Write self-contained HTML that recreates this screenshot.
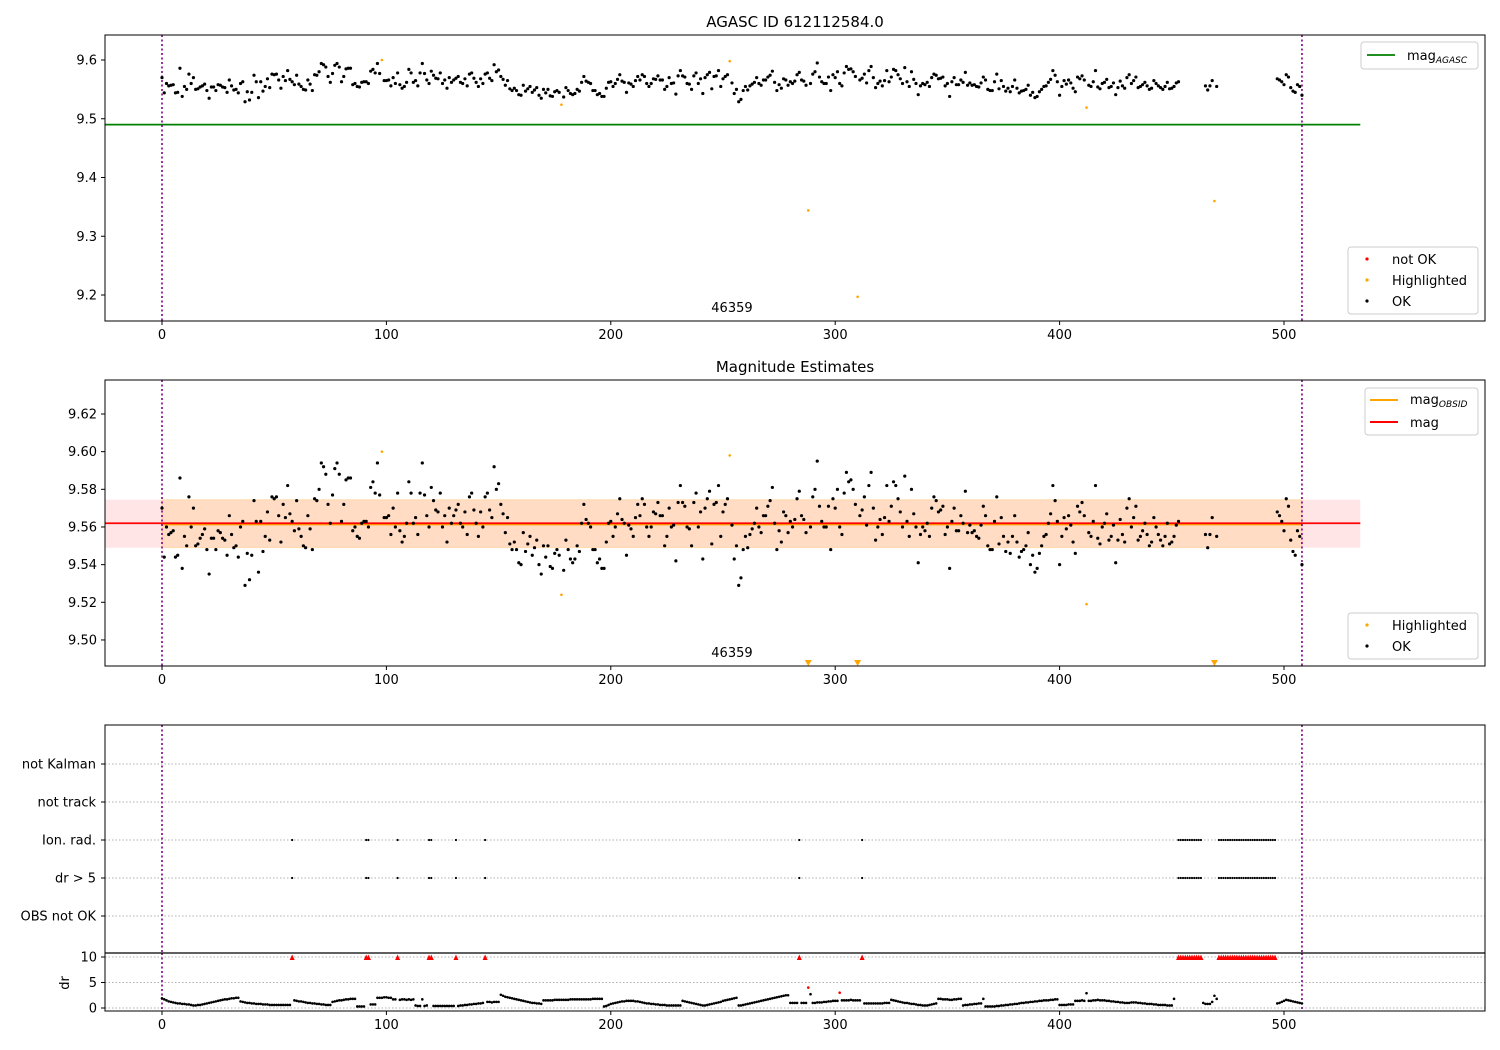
<!DOCTYPE html>
<html><head><meta charset="utf-8"><style>
body{margin:0;background:#fff}
svg{display:block;font-family:"DejaVu Sans","Liberation Sans",sans-serif}
</style></head><body>
<svg id="c" width="1500" height="1050" viewBox="0 0 1500 1050" xmlns="http://www.w3.org/2000/svg"></svg>
<script>
const ticksX=[0,100,200,300,400,500];
const ticksY1=[9.2,9.3,9.4,9.5,9.6];
const ticksY2=[9.50,9.52,9.54,9.56,9.58,9.60,9.62];
const ticksY4=[0,5,10];
const flagRows=["OBS not OK","dr > 5","Ion. rad.","not track","not Kalman"];
const agascMag=9.49;
const meanMag=9.562;
const magLow=9.549, magHigh=9.5745;
const highlighted=[98,178,253,288,310,412,469];
const notOkDr=[288,302];
const flagged=[58,91,92,105,119,120,131,144,284,312,453,454,455,456,457,458,459,460,461,462,463,471,472,473,474,475,476,477,478,479,480,481,482,483,484,485,486,487,488,489,490,491,492,493,494,495,496];
const mag=[
9.570,9.544,9.560,9.556,9.557,9.558,9.544,9.545,9.586,9.538,
9.555,9.550,9.576,9.560,9.570,9.550,9.551,9.554,9.556,9.559,
9.548,9.535,9.554,9.554,9.548,9.558,9.557,9.554,9.553,9.545,
9.566,9.556,9.549,9.550,9.544,9.560,9.563,9.529,9.546,9.532,
9.545,9.574,9.563,9.536,9.563,9.547,9.555,9.568,9.553,9.576,
9.575,9.576,9.566,9.552,9.572,9.565,9.582,9.567,9.563,9.558,
9.574,9.559,9.555,9.550,9.549,9.566,9.559,9.548,9.575,9.574,
9.580,9.594,9.592,9.588,9.572,9.562,9.577,9.591,9.594,9.588,
9.563,9.572,9.585,9.586,9.586,9.558,9.560,9.555,9.554,9.562,
9.563,9.563,9.560,9.581,9.584,9.578,9.594,9.577,9.600,9.565,
9.565,9.566,9.556,9.570,9.560,9.578,9.558,9.552,9.555,9.562,
9.584,9.578,9.562,9.565,9.556,9.578,9.594,9.577,9.566,9.560,
9.581,9.574,9.569,9.568,9.578,9.560,9.566,9.552,9.570,9.562,
9.566,9.569,9.572,9.562,9.560,9.568,9.556,9.576,9.578,9.569,
9.562,9.555,9.568,9.560,9.576,9.578,9.569,9.565,9.592,9.580,
9.583,9.572,9.567,9.557,9.565,9.551,9.548,9.552,9.548,9.541,
9.540,9.557,9.547,9.551,9.555,9.545,9.549,9.553,9.540,9.535,
9.550,9.544,9.550,9.539,9.538,9.546,9.548,9.545,9.524,9.537,
9.553,9.548,9.543,9.541,9.543,9.550,9.547,9.562,9.572,9.564,
9.562,9.560,9.548,9.548,9.541,9.543,9.538,9.538,9.552,9.562,
9.563,9.555,9.560,9.567,9.575,9.564,9.562,9.545,9.561,9.559,
9.555,9.565,9.572,9.566,9.575,9.572,9.560,9.555,9.560,9.568,
9.567,9.573,9.566,9.566,9.550,9.555,9.570,9.560,9.561,9.542,
9.573,9.582,9.573,9.571,9.560,9.559,9.550,9.573,9.578,9.560,
9.568,9.543,9.570,9.575,9.579,9.551,9.572,9.573,9.582,9.555,
9.568,9.572,9.575,9.598,9.561,9.543,9.550,9.529,9.533,9.548,
9.555,9.549,9.556,9.559,9.562,9.570,9.560,9.557,9.566,9.566,
9.571,9.574,9.581,9.562,9.548,9.558,9.552,9.568,9.566,9.557,
9.563,9.560,9.564,9.575,9.579,9.566,9.564,9.557,9.344,9.560,
9.576,9.580,9.595,9.571,9.563,9.560,9.560,9.571,9.548,9.575,
9.570,9.580,9.560,9.556,9.578,9.589,9.584,9.585,9.580,9.572,
9.197,9.566,9.569,9.576,9.561,9.582,9.589,9.570,9.553,9.560,
9.564,9.556,9.565,9.582,9.563,9.571,9.584,9.582,9.575,9.568,
9.560,9.587,9.563,9.555,9.580,9.567,9.560,9.541,9.556,9.560,
9.558,9.562,9.555,9.570,9.576,9.574,9.568,9.569,9.571,9.556,
9.560,9.538,9.563,9.570,9.558,9.558,9.566,9.562,9.579,9.557,
9.561,9.557,9.558,9.555,9.554,9.561,9.571,9.566,9.550,9.548,
9.548,9.563,9.576,9.551,9.565,9.555,9.547,9.552,9.546,9.555,
9.566,9.552,9.544,9.547,9.548,9.550,9.557,9.540,9.545,9.536,
9.538,9.546,9.550,9.555,9.556,9.562,9.567,9.582,9.574,9.563,
9.540,9.555,9.565,9.559,9.566,9.561,9.552,9.546,9.571,9.568,
9.573,9.566,9.519,9.557,9.555,9.563,9.582,9.554,9.551,9.560,
9.562,9.567,9.553,9.555,9.561,9.541,9.553,9.564,9.556,9.552,
9.570,9.575,9.560,9.565,9.571,9.553,9.555,9.558,9.562,9.556,
9.550,9.552,9.565,9.560,9.556,9.553,9.550,9.555,9.562,9.551,
9.552,9.555,9.561,9.563,
null,null,null,null,null,null,null,null,null,null,null,
9.556,9.549,9.556,9.565,9.360,9.555,
null,null,null,null,null,null,null,null,null,null,null,null,null,null,null,null,null,null,null,null,null,null,null,null,null,null,
9.568,9.566,9.563,9.558,9.575,9.571,9.553,9.547,9.545,9.558,9.555,9.540];
const dr=[
1.9,1.7,1.5,1.3,1.2,1.1,1.0,0.9,0.9,0.8,
0.8,0.7,0.7,0.6,0.5,0.5,0.6,0.6,0.7,0.8,
0.9,1.0,1.1,1.2,1.3,1.4,1.5,1.6,1.7,1.7,
1.8,1.9,1.9,2.0,2.0,1.3,1.2,1.1,1.0,1.0,
0.9,0.9,0.8,0.8,0.8,0.7,0.7,0.7,0.6,0.6,
0.6,0.6,0.6,0.6,0.6,0.6,0.6,0.6,12,1.5,
1.4,1.3,1.3,1.2,1.1,1.0,1.0,0.9,0.9,0.8,
0.8,0.7,0.7,0.6,0.6,0.6,1.2,1.3,1.4,1.5,
1.5,1.6,1.7,1.7,1.8,1.8,1.8,0.3,0.3,0.3,
0.3,12,12,0.7,0.7,0.7,2.0,2.0,2.0,2.1,
2.1,2.0,2.0,1.7,1.7,12,1.6,1.7,1.7,1.6,
1.7,1.6,1.7,0.5,0.4,0.4,1.7,0.4,0.5,12,
12,0.4,0.4,0.4,0.4,0.4,0.4,0.4,0.4,0.4,
0.4,12,0.4,0.5,0.5,0.6,0.6,0.7,0.7,0.8,
0.8,0.9,0.9,1.0,12,1.2,1.2,1.1,1.2,1.2,
1.2,2.6,2.4,2.2,2.1,2.0,1.9,1.8,1.7,1.6,
1.5,1.4,1.3,1.2,1.1,1.0,1.0,0.9,0.9,0.8,
1.5,1.5,1.5,1.5,1.5,1.6,1.6,1.6,1.6,1.6,
1.6,1.6,1.7,1.7,1.7,1.7,1.7,1.7,1.7,1.7,
1.7,1.7,1.8,1.8,1.8,1.8,1.8,0.3,0.4,0.6,
0.8,0.9,1.0,1.1,1.2,1.3,1.3,1.4,1.4,1.4,
1.4,1.3,1.3,1.2,1.1,1.0,0.9,0.9,0.8,0.8,
0.7,0.7,0.6,0.6,0.6,0.5,0.5,0.5,0.5,0.5,
0.5,0.5,1.4,1.3,1.2,1.1,1.0,0.9,0.8,0.7,
0.6,0.5,0.5,0.6,0.7,0.8,0.9,1.0,1.1,1.2,
1.4,1.5,1.6,1.7,1.8,1.9,2.0,0.5,0.5,0.6,
0.7,0.8,0.9,1.0,1.1,1.2,1.3,1.4,1.5,1.6,
1.7,1.8,1.9,2.0,2.1,2.2,2.3,2.4,2.5,2.5,
1.0,1.0,1.0,1.0,12,1.0,1.0,1.0,4.0,2.7,
1.0,1.0,1.1,1.1,1.1,1.2,1.2,1.3,1.3,1.4,
1.4,1.4,3.0,1.5,1.5,1.5,1.5,1.6,1.5,1.5,
1.5,1.5,12,0.9,0.9,0.9,0.9,0.9,0.9,0.9,
0.9,0.9,1.0,1.0,1.0,1.6,1.5,1.4,1.3,1.2,
1.1,1.0,1.0,0.9,0.8,0.8,0.7,0.6,0.6,0.5,
0.5,0.5,0.6,0.7,0.8,0.9,1.8,1.8,1.7,1.7,
1.7,1.6,1.6,1.7,1.7,1.8,1.8,0.5,0.6,0.6,
0.7,0.7,0.8,0.8,0.9,0.9,1.8,0.3,0.3,0.3,
0.3,0.3,0.4,0.4,0.5,0.5,0.6,0.6,0.7,0.7,
0.8,0.8,0.9,1.0,1.0,1.1,1.1,1.2,1.2,1.3,
1.3,1.4,1.4,1.5,1.5,1.5,1.6,1.6,1.7,1.7,
0.6,0.6,0.6,0.6,0.7,0.7,0.7,1.4,1.4,1.4,
1.5,1.4,2.9,1.4,1.4,1.5,1.5,1.6,1.5,1.5,
1.5,1.4,1.4,1.3,1.3,1.2,1.2,1.1,1.1,1.0,
1.0,1.0,1.1,1.1,1.1,1.0,1.0,0.9,0.9,0.8,
0.8,0.8,0.7,0.7,0.6,0.6,0.6,0.6,0.5,0.5,
0.5,1.8,null,
12,12,12,12,12,12,12,12,12,12,12,
1.0,0.8,0.8,0.8,1.2,2.4,1.8,
12,12,12,12,12,12,12,12,12,12,12,12,12,12,12,12,12,12,12,12,12,12,12,12,12,12,
0.9,1.0,1.2,1.4,1.6,1.5,1.4,1.3,1.2,1.1,1.0,0.9];

const NS="http://www.w3.org/2000/svg";
const svg=document.getElementById('c');
function mk(tag,attrs,parent,text){const e=document.createElementNS(NS,tag);for(const k in attrs)e.setAttribute(k,attrs[k]);if(text!==undefined)e.textContent=text;(parent||svg).appendChild(e);return e;}
const xs=v=>162+2.244*v;
const y1=v=>60+(9.6-v)*587.5;
const y2=v=>414+(9.62-v)*1883;
const y3=k=>916-38*k;
const y4=v=>1008-5.1*v;
const L=105,R=1485;
const xLast=508, xEnd=534, xStart=-25.4;

function group(name){const g=mk('g',{});return g;}
function xTicks(g,yb){ticksX.forEach(t=>{mk('line',{x1:xs(t),x2:xs(t),y1:yb,y2:yb+4,stroke:'#000','stroke-width':1},g);const tx=mk('text',{x:xs(t),y:yb+18,'font-size':13,'text-anchor':'middle'},g,String(t));});}
function vlines(g,top,bot){[0,xLast].forEach(v=>{mk('line',{x1:xs(v),x2:xs(v),y1:top,y2:bot,stroke:'#800080','stroke-width':1.6,'stroke-dasharray':'2,2.5'},g);});}
function frame(g,top,bot){mk('rect',{x:L,y:top,width:R-L,height:bot-top,fill:'none',stroke:'#000','stroke-width':1},g);}

// Panel 1
const p1=group('agasc-panel');
const t1=mk('text',{x:795,y:27,'font-size':15,'text-anchor':'middle'},p1,'AGASC ID 612112584.0');


const agl=mk('line',{x1:xs(xStart),x2:xs(xEnd),y1:y1(agascMag),y2:y1(agascMag),stroke:'#008000','stroke-width':1.8},p1);


vlines(p1,35,321);
mag.forEach((v,i)=>{if(v===null)return;const h=highlighted.includes(i);const c=mk('circle',{cx:xs(i),cy:y1(v),r:h?1.3:1.6,fill:h?'#ffa500':'#000'},p1);

});
mk('text',{x:xs(254),y:312,'font-size':13,'text-anchor':'middle'},p1,'46359');
frame(p1,35,321);
ticksY1.forEach(t=>{mk('line',{x1:L-4,x2:L,y1:y1(t),y2:y1(t),stroke:'#000'},p1);mk('text',{x:L-8,y:y1(t)+4.5,'font-size':13,'text-anchor':'end'},p1,t.toFixed(1));});
xTicks(p1,321);
const lg1=group('legend-agasc');
mk('rect',{x:1361,y:42,width:117,height:27,rx:3,fill:'#fff',stroke:'#ccc'},lg1);
mk('line',{x1:1367,x2:1395,y1:55,y2:55,stroke:'#008000','stroke-width':1.8},lg1);
const tA=mk('text',{x:1407,y:60,'font-size':13},lg1);tA.innerHTML='mag<tspan font-size="9" font-style="italic" dy="3">AGASC</tspan>';
const lg2=group('legend-status');
mk('rect',{x:1348,y:247,width:130,height:67,rx:3,fill:'#fff',stroke:'#ccc'},lg2);
[['#ff0000','not OK',259],['#ffa500','Highlighted',280],['#000','OK',301]].forEach(e=>{mk('circle',{cx:1367,cy:e[2],r:1.6,fill:e[0]},lg2);mk('text',{x:1392,y:e[2]+5,'font-size':13},lg2,e[1]);});

// Panel 2
const p2=group('magnitude-estimates-panel');
const t2=mk('text',{x:795,y:372,'font-size':15,'text-anchor':'middle'},p2,'Magnitude Estimates');


mk('rect',{x:xs(xStart),y:y2(magHigh),width:xs(xEnd)-xs(xStart),height:y2(magLow)-y2(magHigh),fill:'#ff0000','fill-opacity':0.1},p2);
mk('rect',{x:xs(0),y:y2(magHigh),width:xs(xLast)-xs(0),height:y2(magLow)-y2(magHigh),fill:'#ffa500','fill-opacity':0.15,stroke:'#ffa500','stroke-opacity':0.2},p2);
mk('line',{x1:xs(0),x2:xs(xLast),y1:y2(meanMag)+1.2,y2:y2(meanMag)+1.2,stroke:'#ffa500','stroke-width':1.8},p2);
const ml=mk('line',{x1:xs(xStart),x2:xs(xEnd),y1:y2(meanMag),y2:y2(meanMag),stroke:'#ff0000','stroke-width':1.8},p2);


vlines(p2,380,666);
mag.forEach((v,i)=>{if(v===null)return;const h=highlighted.includes(i);let c;
 if(h&&v<9.4862){const x=xs(i);c=mk('path',{d:`M${x-3.5},660 L${x+3.5},660 L${x},666 Z`,fill:'#ffa500'},p2);}
 else c=mk('circle',{cx:xs(i),cy:y2(v),r:h?1.3:1.6,fill:h?'#ffa500':'#000'},p2);
 
 });
mk('text',{x:xs(254),y:657,'font-size':13,'text-anchor':'middle'},p2,'46359');
frame(p2,380,666);
ticksY2.forEach(t=>{mk('line',{x1:L-4,x2:L,y1:y2(t),y2:y2(t),stroke:'#000'},p2);mk('text',{x:L-8,y:y2(t)+4.5,'font-size':13,'text-anchor':'end'},p2,t.toFixed(2));});
xTicks(p2,666);
const lg3=group('legend-mag-lines');
mk('rect',{x:1365,y:388,width:113,height:47,rx:3,fill:'#fff',stroke:'#ccc'},lg3);
mk('line',{x1:1370,x2:1398,y1:400,y2:400,stroke:'#ffa500','stroke-width':2},lg3);
const tO=mk('text',{x:1410,y:404,'font-size':13},lg3);tO.innerHTML='mag<tspan font-size="9" font-style="italic" dy="3">OBSID</tspan>';
mk('line',{x1:1370,x2:1398,y1:422,y2:422,stroke:'#ff0000','stroke-width':2},lg3);
mk('text',{x:1410,y:427,'font-size':13},lg3,'mag');
const lg4=group('legend-status-2');
mk('rect',{x:1348,y:613,width:130,height:46,rx:3,fill:'#fff',stroke:'#ccc'},lg4);
[['#ffa500','Highlighted',625],['#000','OK',646]].forEach(e=>{mk('circle',{cx:1367,cy:e[2],r:1.6,fill:e[0]},lg4);mk('text',{x:1392,y:e[2]+5,'font-size':13},lg4,e[1]);});

// Panel 3
const p3=group('flags-panel');
flagRows.forEach((n,k)=>{mk('line',{x1:L,x2:R,y1:y3(k),y2:y3(k),stroke:'#b0b0b0','stroke-width':0.9,'stroke-dasharray':'1.5,2'},p3);mk('line',{x1:L-4,x2:L,y1:y3(k),y2:y3(k),stroke:'#000'},p3);const tl=mk('text',{x:L-9,y:y3(k)+4.5,'font-size':13,'text-anchor':'end'},p3,n);

});
vlines(p3,725,953);
flagged.forEach(i=>{[1,2].forEach(k=>{const c=mk('circle',{cx:xs(i),cy:y3(k),r:1.1,fill:'#000'},p3);

});});
frame(p3,725,953);

// Panel 4
const p4=group('dr-panel');
ticksY4.forEach(t=>{mk('line',{x1:L,x2:R,y1:y4(t),y2:y4(t),stroke:'#b0b0b0','stroke-width':0.9,'stroke-dasharray':'1.5,2'},p4);mk('line',{x1:L-4,x2:L,y1:y4(t),y2:y4(t),stroke:'#000'},p4);mk('text',{x:L-8,y:y4(t)+4.5,'font-size':13,'text-anchor':'end'},p4,String(t));});
const drt=mk('text',{x:0,y:0,'font-size':13,'text-anchor':'middle',transform:'translate(69,983) rotate(-90)'},p4,'dr');


vlines(p4,953,1011);
dr.forEach((v,i)=>{if(v===null)return;let c;
 if(v>=10){const x=xs(i),y=y4(10);c=mk('path',{d:`M${x-2.5},${y+3} L${x+2.5},${y+3} L${x},${y-2.5} Z`,fill:'#ff0000'},p4);
 }
 else{const red=notOkDr.includes(i);c=mk('circle',{cx:xs(i),cy:y4(v),r:1.3,fill:red?'#ff0000':'#000'},p4);
 }
 });
frame(p4,953,1011);
mk('line',{x1:L,x2:R,y1:953,y2:953,stroke:'#000','stroke-width':1.3},p4);
xTicks(p4,1011);
</script>
</body></html>
